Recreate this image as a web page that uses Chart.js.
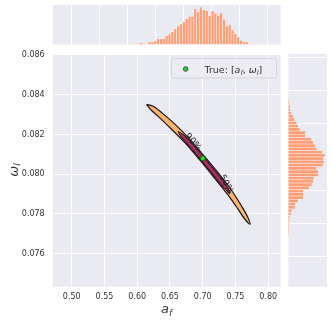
<!DOCTYPE html>
<html><head><meta charset="utf-8">
<script src="https://cdn.jsdelivr.net/npm/chart.js@4/dist/chart.umd.min.js"></script>
<style>
html,body{margin:0;padding:0;background:#ffffff;}
#wrap{position:relative;width:333px;height:324px;overflow:hidden;}
canvas{position:absolute;left:0;top:0;}
</style></head><body>
<div id="wrap">
<canvas id="top" width="333" height="324"></canvas>
<canvas id="right" width="333" height="324"></canvas>
<canvas id="main" width="333" height="324"></canvas>
</div>
<script>
// ---------- data ----------
const xTicks = [0.50, 0.55, 0.60, 0.65, 0.70, 0.75, 0.80];
const xTickLabels = ['0.50', '0.55', '0.60', '0.65', '0.70', '0.75', '0.80'];
const yTicks = [0.076, 0.078, 0.080, 0.082, 0.084, 0.086];
const yTickLabels = ['0.076', '0.078', '0.080', '0.082', '0.084', '0.086'];

// marginal histogram of a_f (bin centres, counts)
const afBins = [0.5786, 0.5837, 0.5888, 0.5939, 0.5990, 0.6041, 0.6092, 0.6143, 0.6194, 0.6245,
  0.6296, 0.6347, 0.6398, 0.6449, 0.6500, 0.6551, 0.6602, 0.6653, 0.6704, 0.6755,
  0.6806, 0.6857, 0.6908, 0.6959, 0.7010, 0.7061, 0.7112, 0.7163, 0.7214, 0.7265,
  0.7316, 0.7367, 0.7418, 0.7469, 0.7520, 0.7571, 0.7622, 0.7673, 0.7724, 0.7775,
  0.7826, 0.7877, 0.7928, 0.7979, 0.8030];
const afCounts = [0.5, 0.5, 1, 3, 5, 2, 2, 8, 9, 11,
  17, 17, 17, 27, 31, 38, 47, 55, 61, 68,
  76, 83, 83, 105, 96, 111, 103, 100, 86, 100,
  93, 86, 93, 75, 55, 59, 43, 33, 22, 13,
  8, 8, 3, 1, 0.5];

// marginal histogram of omega_l (bin centres, counts)
const wlBins = [0.084430, 0.084234, 0.084038, 0.083842, 0.083646, 0.083450, 0.083254, 0.083058,
  0.082862, 0.082666, 0.082470, 0.082274, 0.082078, 0.081882, 0.081686, 0.081490,
  0.081294, 0.081098, 0.080902, 0.080706, 0.080510, 0.080314, 0.080118, 0.079922,
  0.079726, 0.079530, 0.079334, 0.079138, 0.078942, 0.078746, 0.078550, 0.078354,
  0.078158, 0.077962, 0.077766, 0.077570, 0.077374, 0.077178, 0.076982, 0.076786,
  0.076590, 0.076394];
const wlCounts = [1, 4, 5, 7, 10, 15, 19, 25, 30, 35, 51, 51, 69, 75, 80, 85,
  103, 110, 105, 108, 104, 85, 90, 90, 78, 75, 71, 63, 45, 45, 45, 30,
  21, 20, 11, 8, 5, 4, 3, 3, 2, 1];

// 90% credible contour (closed outline)
const c90Af = [0.6142, 0.6243, 0.6373, 0.6579, 0.6794, 0.7024, 0.7240, 0.7452, 0.7599, 0.7684,
  0.7722, 0.7638, 0.7541, 0.7382, 0.7167, 0.6954, 0.6727, 0.6515, 0.6324, 0.6209, 0.6142];
const c90Wl = [0.08351, 0.08342, 0.08310, 0.08251, 0.08179, 0.08091, 0.08005, 0.07913, 0.07836, 0.07786,
  0.07749, 0.07776, 0.07823, 0.07897, 0.07986, 0.08072, 0.08159, 0.08229, 0.08290, 0.08324, 0.08351];
// 50% credible contour (closed outline)
const c50Af = [0.6623, 0.6701, 0.6783, 0.7015, 0.7229, 0.7362, 0.7417, 0.7319, 0.7177, 0.6963, 0.6737, 0.6667, 0.6623];
const c50Wl = [0.08215, 0.08200, 0.08176, 0.08088, 0.08002, 0.07943, 0.07902, 0.07932, 0.07989, 0.08074, 0.08162, 0.08189, 0.08215];
// innermost density ridge line
const cInAf = [0.6654, 0.6761, 0.6990, 0.7204, 0.7356];
const cInWl = [0.08205, 0.08169, 0.08081, 0.07995, 0.07932];

const trueAf = [0.70];
const trueWl = [0.0808];

const contourLabels = ['90%', '50%'];
const labelAf = [0.6852, 0.7356];
const labelWl = [0.08162, 0.07950];

// ---------- layout / style ----------
const AREA = {left: 52.7, right: 280.7, top: 54, bottom: 286.7};
const TOPH = {top: 5, bottom: 44.5};
const RIGHTH = {left: 288.3, right: 327};
const W = 333, H = 324;
const BG = '#eaeaf2';
const TXT = '#333333';
const BAR = '#ff9f78';

const areaBg = {
  id: 'areaBg',
  beforeDraw(c) {
    const a = c.chartArea, ctx = c.ctx;
    ctx.save();
    ctx.fillStyle = BG;
    ctx.fillRect(a.left, a.top, a.right - a.left, a.bottom - a.top);
    ctx.restore();
  }
};

function pts(xs, ys) { return xs.map((x, i) => ({x: x, y: ys[i]})); }

function mathText(ctx, parts, x, y, size) {
  let cx = x;
  parts.forEach(p => {
    const s = p[2] ? size * 0.7 : size;
    ctx.font = (p[1] ? 'italic ' : '') + s + 'px "DejaVu Sans"';
    ctx.fillText(p[0], cx, y + (p[2] ? size * 0.22 : 0));
    cx += ctx.measureText(p[0]).width;
  });
  return cx - x;
}
function mathWidth(ctx, parts, size) {
  let w = 0;
  parts.forEach(p => {
    const s = p[2] ? size * 0.7 : size;
    ctx.font = (p[1] ? 'italic ' : '') + s + 'px "DejaVu Sans"';
    w += ctx.measureText(p[0]).width;
  });
  return w;
}

const overlay = {
  id: 'overlay',
  afterDatasetsDraw(c) {
    const ctx = c.ctx, xs = c.scales.x, ys = c.scales.y;
    ctx.save();
    ctx.fillStyle = '#1e1e1e';
    ctx.textAlign = 'center';
    ctx.textBaseline = 'middle';
    ctx.font = '9px "DejaVu Sans"';
    const ang = [0.84, 1.1];
    contourLabels.forEach((t, i) => {
      ctx.save();
      ctx.translate(xs.getPixelForValue(labelAf[i]), ys.getPixelForValue(labelWl[i]));
      ctx.rotate(ang[i]);
      ctx.fillText(t, 0, 0);
      ctx.restore();
    });
    ctx.restore();
  },
  afterDraw(c) {
    const ctx = c.ctx;
    ctx.save();
    const lx = 171.5, ly = 58.5, lw = 105, lh = 19.5, r = 2.5;
    ctx.beginPath();
    ctx.moveTo(lx + r, ly);
    ctx.arcTo(lx + lw, ly, lx + lw, ly + lh, r);
    ctx.arcTo(lx + lw, ly + lh, lx, ly + lh, r);
    ctx.arcTo(lx, ly + lh, lx, ly, r);
    ctx.arcTo(lx, ly, lx + lw, ly, r);
    ctx.closePath();
    ctx.fillStyle = 'rgba(236,236,243,0.85)';
    ctx.fill();
    ctx.strokeStyle = '#cfcfd4';
    ctx.lineWidth = 0.8;
    ctx.stroke();
    ctx.beginPath();
    ctx.arc(185.7, 69, 2.3, 0, Math.PI * 2);
    ctx.fillStyle = '#33cc33';
    ctx.fill();
    ctx.strokeStyle = '#1f1f1f';
    ctx.lineWidth = 0.7;
    ctx.stroke();
    ctx.fillStyle = TXT;
    ctx.textBaseline = 'alphabetic';
    ctx.textAlign = 'left';
    mathText(ctx, [['True: [', false, false], ['a', true, false], ['f', true, true], [', ', false, false], ['\u03c9', true, false], ['l', true, true], [']', false, false]], 204.5, 72.8, 9.5);
    const xp = [['a', true, false], ['f', true, true]];
    const xw = mathWidth(ctx, xp, 13);
    mathText(ctx, xp, 166.7 - xw / 2, 313.3, 13);
    ctx.save();
    ctx.translate(17.5, 170);
    ctx.rotate(-Math.PI / 2);
    const yp = [['\u03c9', true, false], ['l', true, true]];
    const yw = mathWidth(ctx, yp, 13);
    mathText(ctx, yp, -yw / 2, 0, 13);
    ctx.restore();
    ctx.restore();
  }
};

const tickFont = {family: 'DejaVu Sans', size: 8};

// ---------- main joint plot ----------
new Chart(document.getElementById('main'), {
  type: 'scatter',
  data: {
    datasets: [
      {type: 'line', data: pts(c90Af, c90Wl), borderColor: '#1f171e', borderWidth: 1.25,
        backgroundColor: '#f8b46d', fill: 'shape', tension: 0.3, pointRadius: 0, order: 4},
      {type: 'line', data: pts(c50Af, c50Wl), borderColor: '#1f171e', borderWidth: 1.0,
        backgroundColor: '#8e2654', fill: 'shape', tension: 0.3, pointRadius: 0, order: 3},
      {type: 'line', data: pts(cInAf, cInWl), borderColor: '#cf4a72', borderWidth: 0.8,
        fill: false, tension: 0.3, pointRadius: 0, order: 2},
      {type: 'scatter', data: pts(trueAf, trueWl), pointRadius: 2.6, backgroundColor: '#22dd22',
        borderColor: '#1f1f1f', borderWidth: 0.7, order: 1}
    ]
  },
  options: {
    responsive: false, animation: false, events: [],
    layout: {padding: {left: 0, top: AREA.top, right: W - AREA.right, bottom: 0}},
    plugins: {legend: {display: false}, tooltip: {enabled: false}},
    scales: {
      x: {type: 'linear', min: 0.471, max: 0.819,
        afterBuildTicks(s) { s.ticks = xTicks.map(v => ({value: v})); },
        afterFit(s) { s.height = H - AREA.bottom; },
        grid: {color: '#ffffff', lineWidth: 1, drawTicks: false},
        border: {display: false},
        ticks: {padding: 5, color: TXT, font: tickFont, autoSkip: false, maxRotation: 0,
          callback: (v, i) => xTickLabels[i]}},
      y: {type: 'linear', min: 0.07434, max: 0.08605,
        afterBuildTicks(s) { s.ticks = yTicks.map(v => ({value: v})); },
        afterFit(s) { s.width = AREA.left; },
        grid: {color: '#ffffff', lineWidth: 1, drawTicks: false},
        border: {display: false},
        ticks: {padding: 8, color: TXT, font: tickFont, autoSkip: false,
          callback: (v, i) => yTickLabels[i]}}
    }
  },
  plugins: [areaBg, overlay]
});

// ---------- top marginal histogram ----------
new Chart(document.getElementById('top'), {
  type: 'bar',
  data: {datasets: [{data: pts(afBins, afCounts), backgroundColor: BAR,
    borderColor: 'rgba(255,255,255,0.5)', borderWidth: 0.6, barPercentage: 1, categoryPercentage: 1}]},
  options: {
    responsive: false, animation: false, events: [],
    layout: {padding: {left: AREA.left, top: TOPH.top, right: W - AREA.right, bottom: H - TOPH.bottom}},
    plugins: {legend: {display: false}, tooltip: {enabled: false}},
    scales: {
      x: {type: 'linear', min: 0.471, max: 0.819,
        afterBuildTicks(s) { s.ticks = xTicks.map(v => ({value: v})); },
        afterFit(s) { s.height = 0; },
        grid: {color: '#ffffff', lineWidth: 1, drawTicks: false},
        border: {display: false}, ticks: {display: false}},
      y: {type: 'linear', min: 0, max: 117, display: false}
    }
  },
  plugins: [areaBg]
});

// ---------- right marginal histogram ----------
new Chart(document.getElementById('right'), {
  type: 'bar',
  data: {datasets: [{data: wlBins.map((b, i) => ({x: wlCounts[i], y: b})), backgroundColor: BAR,
    borderColor: 'rgba(255,255,255,0.5)', borderWidth: 0.6, barPercentage: 1, categoryPercentage: 1}]},
  options: {
    indexAxis: 'y',
    responsive: false, animation: false, events: [],
    layout: {padding: {left: RIGHTH.left, top: AREA.top, right: W - RIGHTH.right, bottom: H - AREA.bottom}},
    plugins: {legend: {display: false}, tooltip: {enabled: false}},
    scales: {
      x: {type: 'linear', min: 0, max: 116, display: false},
      y: {type: 'linear', min: 0.07434, max: 0.08605,
        afterBuildTicks(s) { s.ticks = yTicks.map(v => ({value: v})); },
        afterFit(s) { s.width = 0; },
        grid: {color: '#ffffff', lineWidth: 1, drawTicks: false},
        border: {display: false}, ticks: {display: false}}
    }
  },
  plugins: [areaBg]
});
</script>
</body></html>
